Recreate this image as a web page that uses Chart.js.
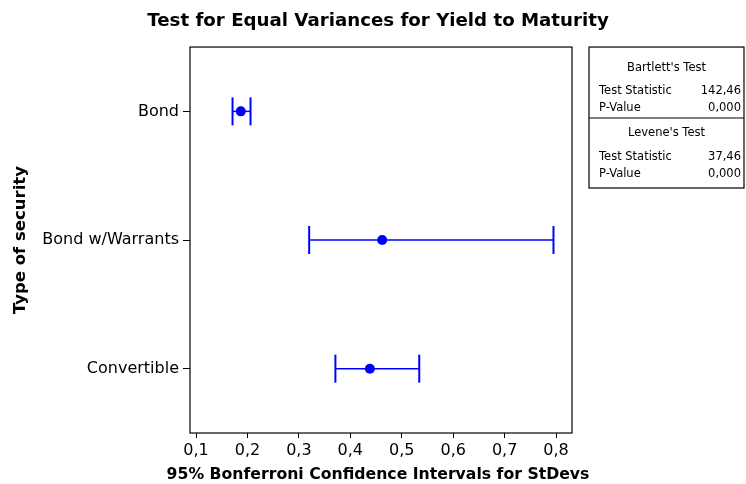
<!DOCTYPE html>
<html>
<head>
<meta charset="utf-8">
<title>Test for Equal Variances for Yield to Maturity</title>
<script src="https://cdn.jsdelivr.net/npm/chart.js@4.4.1/dist/chart.umd.min.js"></script>
<style>
  html, body { margin: 0; padding: 0; background: #fff; }
  #chart { display: block; }
</style>
</head>
<body>
<canvas id="chart" width="746" height="484"></canvas>
<script>
// values (95% Bonferroni intervals for the StDevs)
const categories = ['Bond', 'Bond w/Warrants', 'Convertible'];
const stdevLow  = [0.171, 0.320, 0.371];
const stdev     = [0.187, 0.462, 0.438];
const stdevHigh = [0.206, 0.795, 0.534];
const xTicks = [0.1, 0.2, 0.3, 0.4, 0.5, 0.6, 0.7, 0.8];
const xTitle = '95% Bonferroni Confidence Intervals for StDevs';

// test results shown in the box on the right
const bartlettRows = [['Test Statistic', '142,46'], ['P-Value', '0,000']];
const leveneRows = [['Test Statistic', '37,46'], ['P-Value', '0,000']];

const blue = '#0000ff';
const fontFamily = "'DejaVu Sans', Verdana, sans-serif";
Chart.defaults.font.family = fontFamily;
Chart.defaults.color = '#000';

function comma(v) { return v.toFixed(1).replace('.', ','); }

// one line per interval, end points drawn as vertical caps
const intervalSets = categories.map(function(c, i) {
  return {
    type: 'line',
    label: c,
    data: [{x: stdevLow[i], y: i}, {x: stdevHigh[i], y: i}],
    borderColor: blue,
    borderWidth: 1.5,
    pointStyle: 'line',
    pointRotation: 90,
    pointRadius: 14,
    pointHoverRadius: 14,
    pointBorderWidth: 2,
    pointBorderColor: blue,
    fill: false
  };
});

const pointSet = {
  type: 'scatter',
  label: 'StDev',
  data: categories.map(function(c, i) { return {x: stdev[i], y: i}; }),
  pointRadius: 5,
  pointHoverRadius: 5,
  pointBackgroundColor: blue,
  pointBorderColor: blue,
  borderWidth: 0
};

// frame round the plot area, title centred over the plot rather than the padded box
const frame = {
  id: 'frame',
  afterLayout(chart) {
    if (chart.titleBlock) {
      chart.titleBlock.left = 10;
      chart.titleBlock.right = chart.width;
    }
  },
  afterDatasetsDraw(chart) {
    const a = chart.chartArea;
    const ctx = chart.ctx;
    ctx.save();
    ctx.strokeStyle = '#000';
    ctx.lineWidth = 1.2;
    ctx.strokeRect(a.left, a.top, a.right - a.left, a.bottom - a.top);
    // x axis title is wider than the plot, so chart.js would squeeze it
    ctx.fillStyle = '#000';
    ctx.font = 'bold 15.7px ' + fontFamily;
    ctx.textAlign = 'center';
    ctx.textBaseline = 'middle';
    ctx.fillText(xTitle, (a.left + a.right) / 2 - 3, 475);
    ctx.restore();
  }
};

// Bartlett / Levene box
const statsBox = {
  id: 'statsBox',
  afterDraw(chart) {
    const ctx = chart.ctx;
    const a = chart.chartArea;
    const left = a.right + 17, right = chart.width - 2;
    const top = a.top, bottom = 188, sep = 118;
    ctx.save();
    ctx.strokeStyle = '#000';
    ctx.lineWidth = 1.2;
    ctx.strokeRect(left, top, right - left, bottom - top);
    ctx.beginPath();
    ctx.moveTo(left, sep);
    ctx.lineTo(right, sep);
    ctx.stroke();
    ctx.fillStyle = '#000';
    ctx.font = '11.5px ' + fontFamily;
    ctx.textBaseline = 'middle';
    ctx.textAlign = 'center';
    ctx.fillText("Bartlett's Test", (left + right) / 2, 68);
    ctx.fillText("Levene's Test", (left + right) / 2, 133);
    function rows(list, y0) {
      list.forEach(function(r, k) {
        const y = y0 + k * 17;
        ctx.textAlign = 'left';
        ctx.fillText(r[0], left + 10, y);
        ctx.textAlign = 'right';
        ctx.fillText(r[1], right - 3, y);
      });
    }
    rows(bartlettRows, 91);
    rows(leveneRows, 157);
    ctx.restore();
  }
};

new Chart(document.getElementById('chart'), {
  data: { datasets: intervalSets.concat([pointSet]) },
  options: {
    responsive: false,
    animation: false,
    layout: { padding: { left: 0, right: 174, top: 0, bottom: 0 } },
    plugins: {
      legend: { display: false },
      tooltip: { enabled: false },
      title: {
        display: true,
        text: 'Test for Equal Variances for Yield to Maturity',
        font: { size: 18.2, weight: 'bold' },
        color: '#000',
        padding: { top: 10, bottom: 15.2 }
      }
    },
    scales: {
      x: {
        type: 'linear',
        min: 0.0883,
        max: 0.831,
        afterBuildTicks(scale) { scale.ticks = xTicks.map(function(v) { return {value: v}; }); },
        afterFit(scale) { scale.height = 51; },
        ticks: { callback: function(v) { return comma(v); }, font: { size: 16 }, padding: 3, maxRotation: 0 },
        grid: { drawOnChartArea: false, drawTicks: true, tickLength: 5, color: '#000' },
        border: { display: false },
        title: { display: false }
      },
      y: {
        type: 'linear',
        reverse: true,
        min: -0.5,
        max: 2.5,
        afterBuildTicks(scale) { scale.ticks = categories.map(function(c, i) { return {value: i}; }); },
        afterFit(scale) { scale.width = 190; },
        ticks: { callback: function(v) { return categories[v]; }, font: { size: 16 }, padding: 4 },
        grid: { drawOnChartArea: false, drawTicks: true, tickLength: 7, color: '#000' },
        border: { display: false },
        title: {
          display: true,
          text: 'Type of security',
          font: { size: 16.5, weight: 'bold' },
          padding: { top: 11, bottom: 0 }
        }
      }
    }
  },
  plugins: [frame, statsBox]
});
</script>
</body>
</html>
